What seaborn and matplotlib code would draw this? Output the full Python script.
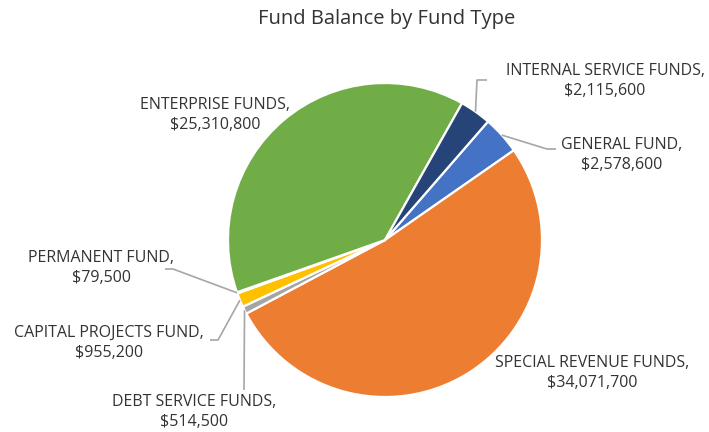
import matplotlib
matplotlib.use("Agg")
import matplotlib.pyplot as plt
import numpy as np
import seaborn as sns

# data, in Excel series order (clockwise from the first slice)
fund_types = ["GENERAL FUND", "SPECIAL REVENUE FUNDS", "DEBT SERVICE FUNDS",
              "CAPITAL PROJECTS FUND", "PERMANENT FUND", "ENTERPRISE FUNDS",
              "INTERNAL SERVICE FUNDS"]
balances = [2578600, 34071700, 514500, 955200, 79500, 25310800, 2115600]
colors = ["#4472C4", "#ED7D31", "#A5A5A5", "#FFC000", "#5B9BD5", "#70AD47", "#264478"]

sns.set_theme(style="white")
plt.rcParams['font.family'] = ['Open Sans', 'DejaVu Sans']

W, H = 709, 432
CX, CY, R = 385, 240, 157


def px(x, y):
    # pixel position -> data units (pie radius = 1)
    return (x - CX) / R, (CY - y) / R


fig = plt.figure(figsize=(W / 100, H / 100), dpi=100)
ax = fig.add_axes([0, 0, 1, 1])
wedges, _ = ax.pie(balances, colors=colors, startangle=49, counterclock=False,
                   radius=1, center=(0, 0),
                   wedgeprops={'edgecolor': 'white', 'linewidth': 1.6})
ax.set_xlim(-CX / R, (W - CX) / R)
ax.set_ylim((CY - H) / R, CY / R)
ax.set_aspect('equal')
ax.axis('off')

# label layout: text centre (px) and leader route (px), None = no leader
label_pos = {
    "GENERAL FUND": ((622, 155), [(547, 149), (556, 149)]),
    "SPECIAL REVENUE FUNDS": ((592, 373), None),
    "DEBT SERVICE FUNDS": ((194, 412), [(244, 390)]),
    "CAPITAL PROJECTS FUND": ((109, 343), [(218, 340), (210, 340)]),
    "PERMANENT FUND": ((101, 268), [(173, 269), (165, 269)]),
    "ENTERPRISE FUNDS": ((215, 115), None),
    "INTERNAL SERVICE FUNDS": ((605, 81), [(477, 80), (487, 80)]),
}

text_color = "#333333"
for w, name, val in zip(wedges, fund_types, balances):
    (tx, ty), route = label_pos[name]
    ax.text(*px(tx, ty), "{},\n${:,}".format(name, val), ha='center', va='center',
            fontsize=11.5, color=text_color, linespacing=1.35)
    if route is not None:
        mid = np.deg2rad((w.theta1 + w.theta2) / 2)
        xs = [np.cos(mid)] + [px(*p)[0] for p in route]
        ys = [np.sin(mid)] + [px(*p)[1] for p in route]
        ax.plot(xs, ys, color="#A6A6A6", lw=1.2, solid_capstyle='butt')

fig.text(387 / W, 1 - 19 / H, "Fund Balance by Fund Type", ha='center', va='center',
         fontsize=14.5, color="#333333")

fig.savefig("out.png", dpi=100)
